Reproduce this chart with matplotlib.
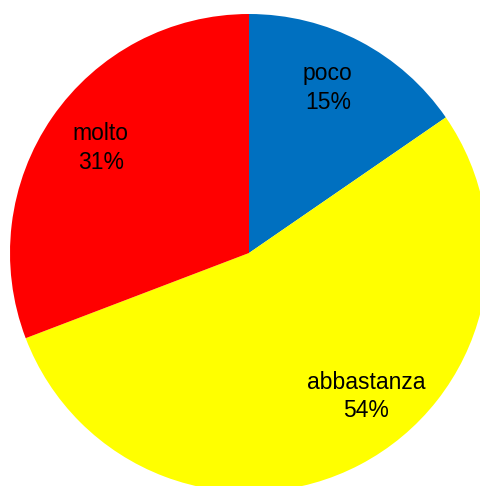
import matplotlib
matplotlib.use("Agg")
import matplotlib.pyplot as plt

categories = ["poco", "abbastanza", "molto"]
values = [15.4, 53.8, 30.8]
colors = ["#0070C0", "#FFFF00", "#FF0000"]

W, H = 480, 486
fig = plt.figure(figsize=(W / 100, H / 100), dpi=100)
ax = fig.add_axes([0, 0, 1, 1])

cx, cy, r = 249, H - 253, 239
ax.pie(values, colors=colors, startangle=90, counterclock=False,
       center=(cx, cy), radius=r, frame=True,
       wedgeprops=dict(linewidth=0))
ax.set_xlim(0, W)
ax.set_ylim(0, H)
ax.set_aspect("equal")
ax.axis("off")

# label offsets (relative to centre, as fraction of radius)
label_pos = {"poco": (0.33, 0.69), "abbastanza": (0.49, -0.60), "molto": (-0.62, 0.44)}
total = sum(values)
for cat, v in zip(categories, values):
    fx, fy = label_pos[cat]
    ax.text(cx + fx * r, cy + fy * r, f"{cat}\n{round(100 * v / total)}%",
            ha="center", va="center", fontsize=16.5, family="Liberation Sans",
            linespacing=1.3, color="black")

fig.savefig("out.png", dpi=100)
